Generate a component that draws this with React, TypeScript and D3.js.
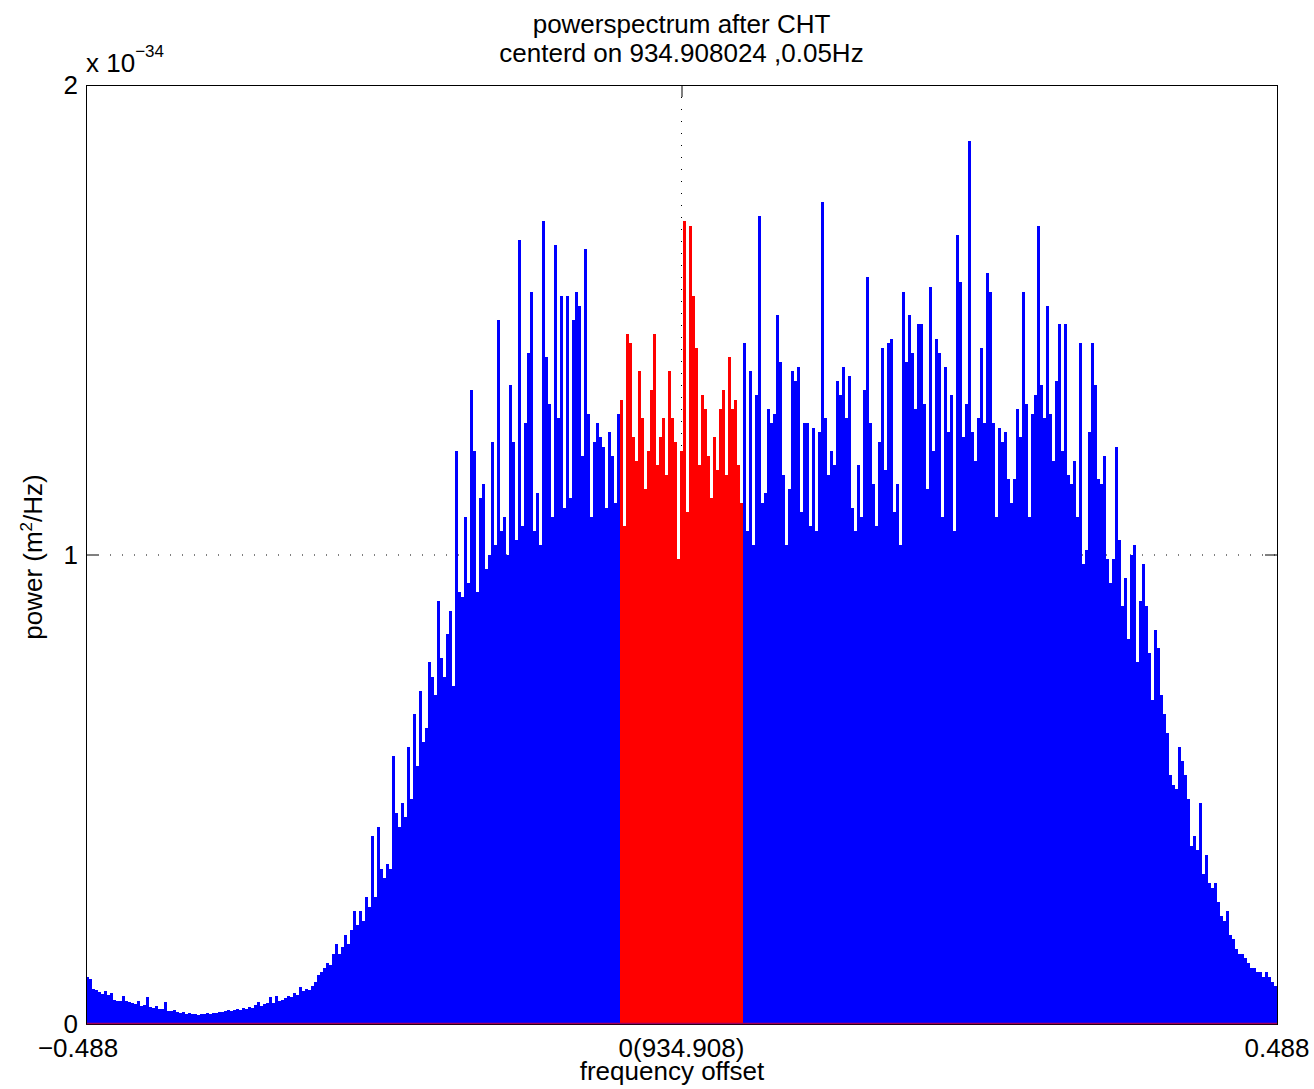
import React from "react";
import * as d3 from "d3";

// power spectrum values in units of 1e-34 m^2/Hz, bins evenly spread over the frequency offset range
const power = [
  0.10, 0.095, 0.075, 0.072, 0.068, 0.064, 0.07, 0.062, 0.066, 0.052,
  0.05, 0.048, 0.06, 0.05, 0.047, 0.044, 0.042, 0.05, 0.038, 0.04,
  0.058, 0.036, 0.035, 0.038, 0.032, 0.033, 0.047, 0.028, 0.027, 0.029,
  0.025, 0.024, 0.026, 0.022, 0.023, 0.021, 0.022, 0.02, 0.022, 0.021,
  0.023, 0.022, 0.024, 0.023, 0.026, 0.025, 0.027, 0.03, 0.028, 0.03,
  0.033, 0.029, 0.034, 0.033, 0.036, 0.034, 0.04, 0.047, 0.038, 0.042,
  0.045, 0.058, 0.044, 0.06, 0.05, 0.052, 0.056, 0.06, 0.058, 0.065,
  0.062, 0.078, 0.07, 0.075, 0.072, 0.082, 0.09, 0.105, 0.11, 0.12,
  0.13, 0.125, 0.15, 0.17, 0.15, 0.165, 0.19, 0.17, 0.2, 0.24,
  0.21, 0.24, 0.22, 0.27, 0.25, 0.40, 0.27, 0.42, 0.33, 0.31,
  0.34, 0.33, 0.57, 0.45, 0.42, 0.47, 0.44, 0.59, 0.48, 0.66,
  0.55, 0.71, 0.6, 0.63, 0.77, 0.74, 0.7, 0.90, 0.78, 0.74,
  0.83, 0.88, 0.72, 1.22, 0.92, 0.91, 1.08, 0.94, 1.35, 1.22,
  0.92, 1.12, 1.15, 0.97, 1.0, 1.24, 1.02, 1.50, 1.05, 1.08,
  1.0, 1.36, 1.24, 1.03, 1.67, 1.06, 1.28, 1.43, 1.56, 1.05,
  1.13, 1.02, 1.71, 1.42, 1.32, 1.08, 1.66, 1.29, 1.55, 1.1,
  1.55, 1.12, 1.50, 1.56, 1.53, 1.21, 1.65, 1.30, 1.08, 1.24,
  1.28, 1.25, 1.23, 1.1, 1.26, 1.21, 1.11, 1.30, 1.33, 1.06,
  1.47, 1.45, 1.25, 1.20, 1.39, 1.29, 1.14, 1.22, 1.35, 1.47,
  1.19, 1.25, 1.29, 1.17, 1.39, 1.29, 1.24, 0.99, 1.22, 1.71,
  1.09, 1.70, 1.55, 1.44, 1.19, 1.34, 1.31, 1.21, 1.12, 1.25,
  1.18, 1.31, 1.35, 1.17, 1.42, 1.31, 1.33, 1.19, 1.11, 1.45,
  1.05, 1.39, 1.02, 1.34, 1.72, 1.11, 1.13, 1.31, 1.28, 1.30,
  1.51, 1.41, 1.17, 1.02, 1.14, 1.39, 1.37, 1.40, 1.09, 1.28,
  1.28, 1.06, 1.27, 1.05, 1.26, 1.75, 1.29, 1.17, 1.22, 1.19,
  1.37, 1.34, 1.40, 1.29, 1.38, 1.10, 1.05, 1.19, 1.08, 1.35,
  1.59, 1.28, 1.15, 1.06, 1.24, 1.44, 1.18, 1.45, 1.46, 1.09,
  1.15, 1.02, 1.56, 1.41, 1.51, 1.43, 1.31, 1.49, 1.49, 1.32,
  1.14, 1.57, 1.22, 1.46, 1.43, 1.08, 1.40, 1.26, 1.34, 1.05,
  1.68, 1.58, 1.25, 1.32, 1.88, 1.26, 1.20, 1.29, 1.44, 1.28,
  1.60, 1.56, 1.28, 1.08, 1.27, 1.24, 1.26, 1.16, 1.11, 1.16,
  1.31, 1.25, 1.56, 1.32, 1.08, 1.30, 1.34, 1.70, 1.36, 1.29,
  1.53, 1.30, 1.20, 1.37, 1.49, 1.22, 1.49, 1.17, 1.15, 1.20,
  1.08, 1.45, 0.98, 1.01, 1.26, 1.45, 1.36, 1.16, 1.15, 1.21,
  0.99, 0.94, 0.99, 1.23, 1.03, 0.89, 0.95, 0.82, 1.00, 1.02,
  0.77, 0.90, 0.98, 0.89, 0.79, 0.69, 0.84, 0.80, 0.70, 0.66,
  0.62, 0.53, 0.51, 0.50, 0.59, 0.56, 0.53, 0.48, 0.38, 0.40,
  0.37, 0.47, 0.32, 0.36, 0.30, 0.29, 0.30, 0.26, 0.23, 0.22,
  0.24, 0.19, 0.18, 0.16, 0.15, 0.15, 0.14, 0.13, 0.12, 0.12,
  0.11, 0.11, 0.10, 0.11, 0.10, 0.09, 0.08,
];

const freqMin = -0.488;
const freqMax = 0.488;
const centerBandHalfWidth = 0.05;
const xTickValues = [-0.488, 0, 0.488];
const xTickLabels = ["\u22120.488", "0(934.908)", "0.488"];
const yTickValues = [0, 1, 2];
const yTickLabels = ["0", "1", "2"];
const titleLines = ["powerspectrum after CHT", "centerd on 934.908024 ,0.05Hz"];
const xAxisLabel = "frequency offset";

const FONT = "'Liberation Sans', Arial, Helvetica, sans-serif";

export default function App() {
  const W = 1314;
  const H = 1089;
  const left = 86, right = 1277, top = 85, bottom = 1024;
  const x = d3.scaleLinear().domain([freqMin, freqMax]).range([left, right]);
  const y = d3.scaleLinear().domain([0, 2]).range([bottom, top]);
  const binW = (freqMax - freqMin) / power.length;
  const fs = 26;
  const tickLen = 12;

  const bars = power.map((v, i) => {
    const f0 = freqMin + i * binW;
    const f1 = f0 + binW;
    const fc = (f0 + f1) / 2;
    const red = Math.abs(fc) <= centerBandHalfWidth;
    const x0 = x(f0);
    const x1 = x(f1);
    return (
      <rect
        key={i}
        x={x0}
        y={y(v)}
        width={x1 - x0 + 0.4}
        height={y(0) - y(v)}
        fill={red ? "#ff0000" : "#0000ff"}
      />
    );
  });

  return (
    <svg
      width={W}
      height={H}
      style={{ position: "absolute", left: 0, top: 0, background: "#fff" }}
      fontFamily={FONT}
    >
      <rect x={0} y={0} width={W} height={H} fill="#fff" />
      {/* grid */}
      <line x1={x(0)} x2={x(0)} y1={top} y2={bottom} stroke="#000" strokeWidth={1} strokeDasharray="1,11" />
      <line x1={left} x2={right} y1={y(1) + 0.5} y2={y(1) + 0.5} stroke="#000" strokeWidth={1} strokeDasharray="1,11" />
      {/* ticks */}
      {yTickValues.map((t) => (
        <g key={"yt" + t}>
          <line x1={left} x2={left + tickLen} y1={y(t) + 0.5} y2={y(t) + 0.5} stroke="#000" />
          <line x1={right - tickLen} x2={right} y1={y(t) + 0.5} y2={y(t) + 0.5} stroke="#000" />
        </g>
      ))}
      {xTickValues.map((t) => (
        <g key={"xt" + t}>
          <line x1={x(t) + 0.5} x2={x(t) + 0.5} y1={top} y2={top + tickLen} stroke="#000" />
          <line x1={x(t) + 0.5} x2={x(t) + 0.5} y1={bottom - tickLen} y2={bottom} stroke="#000" />
        </g>
      ))}
      {/* box */}
      <rect x={left + 0.5} y={top + 0.5} width={right - left} height={bottom - top} fill="none" stroke="#000" strokeWidth={1} />
      {/* data */}
      <g shapeRendering="crispEdges">{bars}</g>
      <line x1={left} x2={right} y1={bottom - 0.5} y2={bottom - 0.5} stroke="#a0005f" strokeWidth={1.6} />
      <line x1={right + 0.5} x2={right + 0.5} y1={top} y2={bottom} stroke="#000" strokeWidth={1} />
      <line x1={left + 0.5} x2={left + 0.5} y1={top} y2={bottom} stroke="#000" strokeWidth={1} />
      {/* y tick labels */}
      {yTickValues.map((t, i) => (
        <text key={"yl" + t} x={78} y={y(t) + 9} fontSize={fs} textAnchor="end" fill="#000">
          {yTickLabels[i]}
        </text>
      ))}
      {/* x tick labels */}
      {xTickValues.map((t, i) => (
        <text
          key={"xl" + t}
          x={i === 0 ? x(t) - 8 : x(t)}
          y={1057}
          fontSize={fs}
          textAnchor="middle"
          fill="#000"
        >
          {xTickLabels[i]}
        </text>
      ))}
      {/* axis labels */}
      <text x={672} y={1080} fontSize={fs} textAnchor="middle" fill="#000">
        {xAxisLabel}
      </text>
      <text transform={`translate(42,557) rotate(-90)`} fontSize={fs} textAnchor="middle" fill="#000">
        power (m<tspan dy={-10} fontSize={17}>2</tspan>
        <tspan dy={10}>/Hz)</tspan>
      </text>
      {/* exponent */}
      <text x={86} y={72} fontSize={fs} fill="#000">
        x 10<tspan dy={-15} fontSize={17}>{"\u221234"}</tspan>
      </text>
      {/* title */}
      <text x={x(0)} y={33} fontSize={fs} textAnchor="middle" fill="#000">
        {titleLines[0]}
      </text>
      <text x={x(0)} y={62} fontSize={fs} textAnchor="middle" fill="#000">
        {titleLines[1]}
      </text>
    </svg>
  );
}
